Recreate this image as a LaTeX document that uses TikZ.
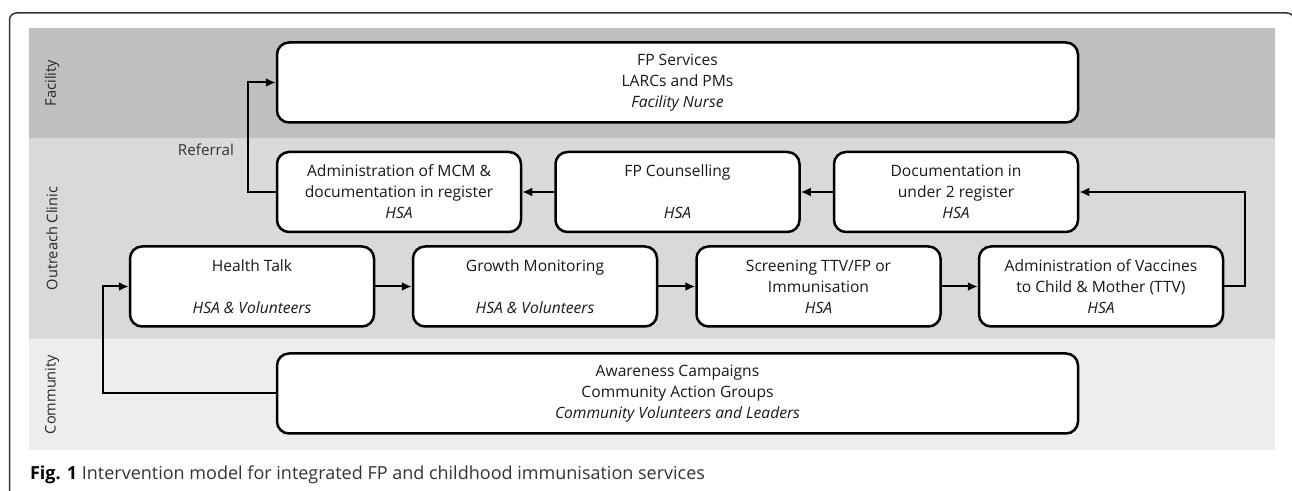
\documentclass[tikz,border=0pt]{standalone}
\usepackage{fontspec}
\setmainfont{Open Sans}
\usetikzlibrary{arrows.meta}

\definecolor{facgray}{HTML}{BFBFBF}
\definecolor{outgray}{HTML}{D9D9D9}
\definecolor{comgray}{HTML}{EDEDED}

\begin{document}
\begin{tikzpicture}[x = 0.5pt, y = -0.5pt,
    box/.style = {draw, line width = 1.25pt, rounded corners = 6pt, fill = white,
        align = center, inner sep = 0pt, minimum width = 122pt, minimum height = 40pt,
        text = black!90, font = \fontsize{7.8}{10.5}\selectfont},
    widebox/.style = {box, minimum width = 400.5pt},
    conn/.style = {line width = 1pt, -{Latex[length = 5pt, width = 4.5pt]}},
    band/.style = {rotate = 90, text = black!85, font = \fontsize{7.3}{9}\selectfont}]
    \useasboundingbox (0,0) rectangle (1292,491);
    \clip (0,0) rectangle (1292,491);

    % bands
    \fill [facgray] (29,28) rectangle (1275,138);
    \fill [outgray] (29,138) rectangle (1275,339);
    \fill [comgray] (29,339) rectangle (1275,450);

    % frame
    \draw [line width = 0.75pt, black!80, rounded corners = 3.5pt]
        (9.5,500) -- (9.5,13) -- (1294,13) -- (1294,500);

    \node [band] (facility) at (52,83) {Facility};
    \node [band] (outreach) at (52,238.5) {Outreach Clinic};
    \node [band] (community) at (52,394.5) {Community};

    % facility
    \node [widebox] (fpserv) at (677.5,82.5)
        {FP Services\\LARCs and PMs\\\textit{Facility Nurse}};

    % outreach clinic, upper row
    \node [box] (mcm) at (399,192)
        {Administration of MCM \&\\documentation in register\\\textit{HSA}};
    \node [box] (couns) at (677.5,192) {FP Counselling\\~\\\textit{HSA}};
    \node [box] (doc) at (956,192) {Documentation in\\under 2 register\\\textit{HSA}};

    % outreach clinic, lower row
    \node [box] (talk) at (252,286.5) {Health Talk\\~\\\textit{HSA \& Volunteers}};
    \node [box] (growth) at (535,286.5) {Growth Monitoring\\~\\\textit{HSA \& Volunteers}};
    \node [box] (screen) at (818.5,286.5) {Screening TTV/FP or\\Immunisation\\\textit{HSA}};
    \node [box] (vacc) at (1101,286.5)
        {Administration of Vaccines\\to Child \& Mother (TTV)\\\textit{HSA}};

    % community
    \node [widebox] (aware) at (677.5,393.5)
        {Awareness Campaigns\\Community Action Groups\\\textit{Community Volunteers and Leaders}};

    % connections
    \draw [conn] (aware.west) -- ++(-173,0) |- (talk.west);
    \draw [conn] (talk) -- (growth);
    \draw [conn] (growth) -- (screen);
    \draw [conn] (screen) -- (vacc);
    \draw [conn] (vacc.east) -- ++(21,0) |- (doc.east);
    \draw [conn] (doc) -- (couns);
    \draw [conn] (couns) -- (mcm);
    \draw [conn] (mcm.west) -- ++(-28,0) |- (fpserv.west);
    \node [anchor = east, text = black!80, font = \fontsize{7.6}{10}\selectfont]
        (referral) at (241,150) {Referral};

    % caption
    \node [anchor = west, text = black!80, font = \fontsize{9}{11}\selectfont] (caption) at (23,475)
        {\textcolor{black}{\textbf{Fig. 1}} Intervention model for integrated FP and childhood immunisation services};
\end{tikzpicture}
\end{document}
